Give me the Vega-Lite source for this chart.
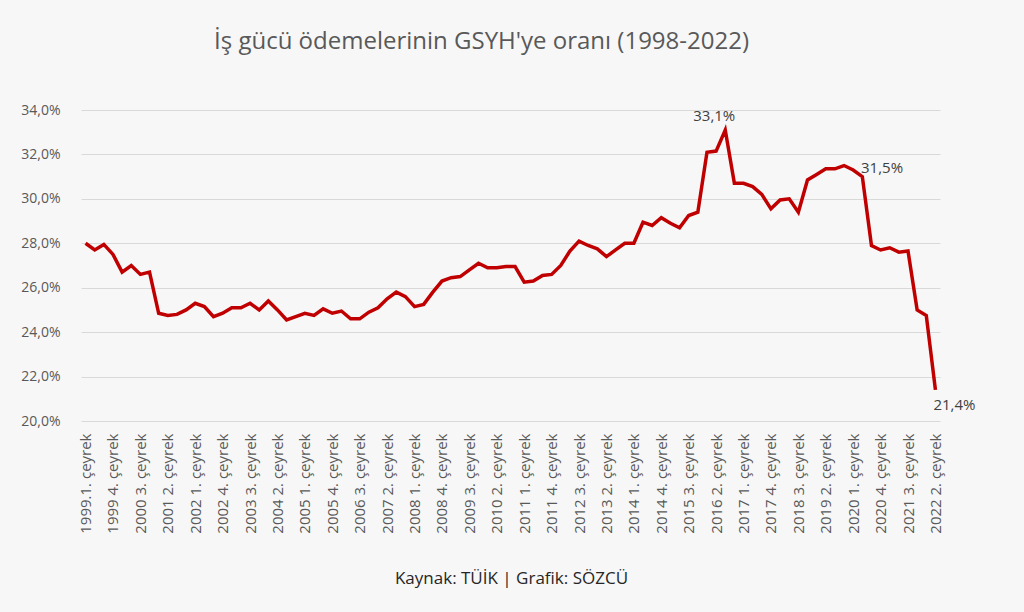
{
  "$schema": "https://vega.github.io/schema/vega-lite/v6.json",
  "autosize": "none",
  "width": 907,
  "height": 311,
  "padding": {"left": 75, "top": 110, "right": 42, "bottom": 191},
  "background": "#f7f7f7",
  "title": {
    "text": "İş gücü ödemelerinin GSYH'ye oranı (1998-2022)",
    "font": "Open Sans",
    "fontSize": 24,
    "fontWeight": "normal",
    "color": "#595959",
    "anchor": "middle",
    "dx": -47,
    "baseline": "alphabetic",
    "offset": 30
  },
  "config": {
    "view": {"stroke": null},
    "font": "Open Sans"
  },
  "data": {
    "values": [
      {"q": "1999.1. çeyrek", "v": 28.0},
      {"q": "1999 2. çeyrek", "v": 27.7},
      {"q": "1999 3. çeyrek", "v": 27.95},
      {"q": "1999 4. çeyrek", "v": 27.5},
      {"q": "2000 1. çeyrek", "v": 26.7},
      {"q": "2000 2. çeyrek", "v": 27.0},
      {"q": "2000 3. çeyrek", "v": 26.6},
      {"q": "2000 4. çeyrek", "v": 26.7},
      {"q": "2001 1. çeyrek", "v": 24.85},
      {"q": "2001 2. çeyrek", "v": 24.75},
      {"q": "2001 3. çeyrek", "v": 24.8},
      {"q": "2001 4. çeyrek", "v": 25.0},
      {"q": "2002 1. çeyrek", "v": 25.3},
      {"q": "2002 2. çeyrek", "v": 25.15},
      {"q": "2002 3. çeyrek", "v": 24.7},
      {"q": "2002 4. çeyrek", "v": 24.85},
      {"q": "2003 1. çeyrek", "v": 25.1},
      {"q": "2003 2. çeyrek", "v": 25.1},
      {"q": "2003 3. çeyrek", "v": 25.3},
      {"q": "2003 4. çeyrek", "v": 25.0},
      {"q": "2004 1. çeyrek", "v": 25.4},
      {"q": "2004 2. çeyrek", "v": 25.0},
      {"q": "2004 3. çeyrek", "v": 24.55},
      {"q": "2004 4. çeyrek", "v": 24.7},
      {"q": "2005 1. çeyrek", "v": 24.85},
      {"q": "2005 2. çeyrek", "v": 24.75},
      {"q": "2005 3. çeyrek", "v": 25.05},
      {"q": "2005 4. çeyrek", "v": 24.85},
      {"q": "2006 1. çeyrek", "v": 24.95},
      {"q": "2006 2. çeyrek", "v": 24.6},
      {"q": "2006 3. çeyrek", "v": 24.6},
      {"q": "2006 4. çeyrek", "v": 24.9},
      {"q": "2007 1. çeyrek", "v": 25.1},
      {"q": "2007 2. çeyrek", "v": 25.5},
      {"q": "2007 3. çeyrek", "v": 25.8},
      {"q": "2007 4. çeyrek", "v": 25.6},
      {"q": "2008 1. çeyrek", "v": 25.15},
      {"q": "2008 2. çeyrek", "v": 25.25},
      {"q": "2008 3. çeyrek", "v": 25.8},
      {"q": "2008 4. çeyrek", "v": 26.3},
      {"q": "2009 1. çeyrek", "v": 26.45},
      {"q": "2009 2. çeyrek", "v": 26.5},
      {"q": "2009 3. çeyrek", "v": 26.8},
      {"q": "2009 4. çeyrek", "v": 27.1},
      {"q": "2010 1. çeyrek", "v": 26.9},
      {"q": "2010 2. çeyrek", "v": 26.9},
      {"q": "2010 3. çeyrek", "v": 26.95},
      {"q": "2010 4. çeyrek", "v": 26.95},
      {"q": "2011 1. çeyrek", "v": 26.25},
      {"q": "2011 2. çeyrek", "v": 26.3},
      {"q": "2011 3. çeyrek", "v": 26.55},
      {"q": "2011 4. çeyrek", "v": 26.6},
      {"q": "2012 1. çeyrek", "v": 27.0},
      {"q": "2012 2. çeyrek", "v": 27.65},
      {"q": "2012 3. çeyrek", "v": 28.1},
      {"q": "2012 4. çeyrek", "v": 27.9},
      {"q": "2013 1. çeyrek", "v": 27.75},
      {"q": "2013 2. çeyrek", "v": 27.4},
      {"q": "2013 3. çeyrek", "v": 27.7},
      {"q": "2013 4. çeyrek", "v": 28.0},
      {"q": "2014 1. çeyrek", "v": 28.0},
      {"q": "2014 2. çeyrek", "v": 28.95},
      {"q": "2014 3. çeyrek", "v": 28.8},
      {"q": "2014 4. çeyrek", "v": 29.15},
      {"q": "2015 1. çeyrek", "v": 28.9},
      {"q": "2015 2. çeyrek", "v": 28.7},
      {"q": "2015 3. çeyrek", "v": 29.25},
      {"q": "2015 4. çeyrek", "v": 29.4},
      {"q": "2016 1. çeyrek", "v": 32.1},
      {"q": "2016 2. çeyrek", "v": 32.15},
      {"q": "2016 3. çeyrek", "v": 33.1, "lbl": "33,1%"},
      {"q": "2016 4. çeyrek", "v": 30.7},
      {"q": "2017 1. çeyrek", "v": 30.7},
      {"q": "2017 2. çeyrek", "v": 30.55},
      {"q": "2017 3. çeyrek", "v": 30.2},
      {"q": "2017 4. çeyrek", "v": 29.55},
      {"q": "2018 1. çeyrek", "v": 29.95},
      {"q": "2018 2. çeyrek", "v": 30.0},
      {"q": "2018 3. çeyrek", "v": 29.4},
      {"q": "2018 4. çeyrek", "v": 30.85},
      {"q": "2019 1. çeyrek", "v": 31.1},
      {"q": "2019 2. çeyrek", "v": 31.35},
      {"q": "2019 3. çeyrek", "v": 31.35},
      {"q": "2019 4. çeyrek", "v": 31.5, "lbl": "31,5%"},
      {"q": "2020 1. çeyrek", "v": 31.3},
      {"q": "2020 2. çeyrek", "v": 31.0},
      {"q": "2020 3. çeyrek", "v": 27.9},
      {"q": "2020 4. çeyrek", "v": 27.7},
      {"q": "2021 1. çeyrek", "v": 27.8},
      {"q": "2021 2. çeyrek", "v": 27.6},
      {"q": "2021 3. çeyrek", "v": 27.65},
      {"q": "2021 4. çeyrek", "v": 25.0},
      {"q": "2022 1. çeyrek", "v": 24.75},
      {"q": "2022 2. çeyrek", "v": 21.4, "lbl": "21,4%"}
    ]
  },
  "encoding": {
    "x": {
      "field": "q",
      "type": "ordinal",
      "sort": null,
      "scale": {"type": "point", "range": [6, 865]},
      "axis": {
        "values": ["1999.1. çeyrek", "1999 4. çeyrek", "2000 3. çeyrek", "2001 2. çeyrek", "2002 1. çeyrek", "2002 4. çeyrek", "2003 3. çeyrek", "2004 2. çeyrek", "2005 1. çeyrek", "2005 4. çeyrek", "2006 3. çeyrek", "2007 2. çeyrek", "2008 1. çeyrek", "2008 4. çeyrek", "2009 3. çeyrek", "2010 2. çeyrek", "2011 1. çeyrek", "2011 4. çeyrek", "2012 3. çeyrek", "2013 2. çeyrek", "2014 1. çeyrek", "2014 4. çeyrek", "2015 3. çeyrek", "2016 2. çeyrek", "2017 1. çeyrek", "2017 4. çeyrek", "2018 3. çeyrek", "2019 2. çeyrek", "2020 1. çeyrek", "2020 4. çeyrek", "2021 3. çeyrek", "2022 2. çeyrek"],
        "labelAngle": 270,
        "labelAlign": "right",
        "labelBaseline": "middle",
        "labelFont": "Open Sans",
        "labelFontSize": 15,
        "labelColor": "#595959",
        "labelPadding": 12,
        "ticks": false,
        "domain": false,
        "grid": false,
        "title": "Kaynak: TÜİK | Grafik: SÖZCÜ",
        "titleFont": "Open Sans",
        "titleFontSize": 17,
        "titleFontWeight": "normal",
        "titleColor": "#262626",
        "titleX": 436,
        "titleY": 162,
        "titleBaseline": "alphabetic",
        "titleAnchor": "middle",
        "titleAlign": "center"
      }
    },
    "y": {
      "field": "v",
      "type": "quantitative",
      "scale": {"domain": [20, 34], "nice": false, "zero": false},
      "axis": {
        "values": [20, 22, 24, 26, 28, 30, 32, 34],
        "labelExpr": "replace(format(datum.value, '.1f'), '.', ',') + '%'",
        "labelFont": "Open Sans",
        "labelFontSize": 14,
        "labelColor": "#595959",
        "labelPadding": 15,
        "ticks": false,
        "domain": false,
        "grid": true,
        "gridColor": "#d9d9d9",
        "gridWidth": 1,
        "title": null
      }
    }
  },
  "layer": [
    {
      "mark": {"type": "line", "color": "#c00000", "strokeWidth": 3.5, "strokeJoin": "miter", "strokeCap": "butt"}
    },
    {
      "transform": [{"filter": "datum.lbl == '33,1%'"}],
      "mark": {"type": "text", "font": "Open Sans", "fontSize": 15, "color": "#404040", "align": "center", "baseline": "middle", "dx": -11, "dy": -14},
      "encoding": {"text": {"field": "lbl"}}
    },
    {
      "transform": [{"filter": "datum.lbl == '31,5%'"}],
      "mark": {"type": "text", "font": "Open Sans", "fontSize": 15, "color": "#404040", "align": "left", "baseline": "middle", "dx": 17, "dy": 2},
      "encoding": {"text": {"field": "lbl"}}
    },
    {
      "transform": [{"filter": "datum.lbl == '21,4%'"}],
      "mark": {"type": "text", "font": "Open Sans", "fontSize": 15, "color": "#404040", "align": "left", "baseline": "middle", "dx": -2, "dy": 15},
      "encoding": {"text": {"field": "lbl"}}
    }
  ]
}
